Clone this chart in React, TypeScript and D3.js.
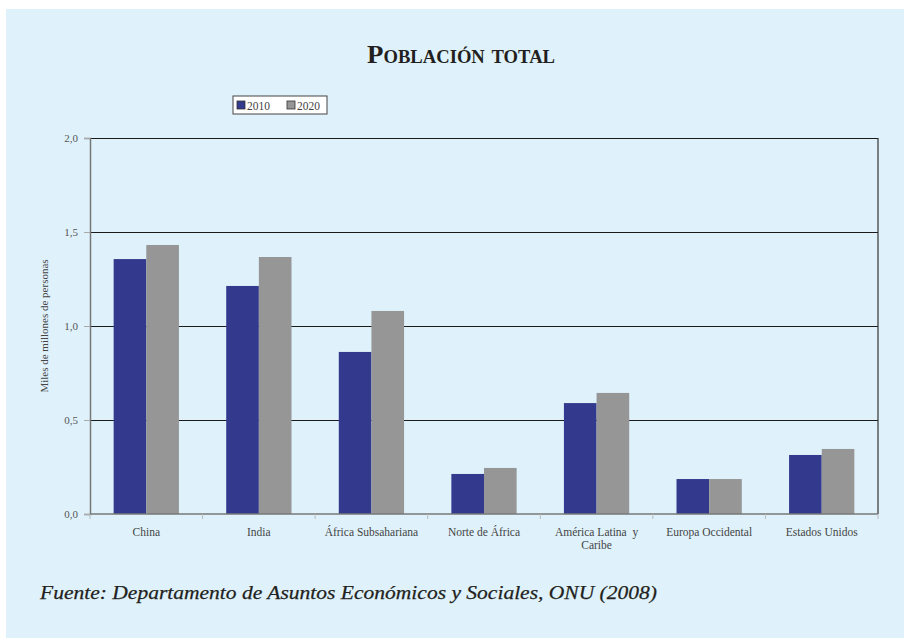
import React, { useRef, useEffect } from 'react';
import * as d3 from 'd3';

const categories = [
  'China',
  'India',
  'África Subsahariana',
  'Norte de África',
  'América Latina y Caribe',
  'Europa Occidental',
  'Estados Unidos',
];
const seriesNames = ['2010', '2020'];
const values2010 = [1.356, 1.213, 0.862, 0.213, 0.59, 0.186, 0.314];
const values2020 = [1.431, 1.367, 1.08, 0.245, 0.644, 0.186, 0.346];
const yTicks = [0, 0.5, 1.0, 1.5, 2.0];
const colors = ['#333a8e', '#969696'];

const W = 904;
const H = 638;

const App: React.FC = () => {
  const svgRef = useRef<SVGSVGElement>(null);

  useEffect(() => {
    if (!svgRef.current) return;
    const svg = d3.select(svgRef.current);
    svg.selectAll('*').remove();

    const serif = '"Liberation Serif", "DejaVu Serif", serif';

    // panel background
    svg.append('rect')
      .attr('x', 6).attr('y', 9)
      .attr('width', W - 6).attr('height', H - 9)
      .attr('fill', '#dff2fb');

    const margin = { top: 138, right: 26, bottom: 124, left: 90 };
    const innerWidth = W - margin.left - margin.right;
    const innerHeight = H - margin.top - margin.bottom;

    const g = svg.append('g')
      .attr('transform', `translate(${margin.left},${margin.top})`);

    const x0 = d3.scaleBand<string>()
      .domain(categories)
      .range([0, innerWidth])
      .paddingInner(0.42)
      .paddingOuter(0.21);
    const x1 = d3.scaleBand<string>()
      .domain(seriesNames)
      .range([0, x0.bandwidth()]);
    const y = d3.scaleLinear().domain([0, 2]).range([innerHeight, 0]);

    const step = x0.step();

    // gridlines
    g.append('g')
      .selectAll('line')
      .data(yTicks.filter(d => d > 0))
      .enter()
      .append('line')
      .attr('x1', 0).attr('x2', innerWidth)
      .attr('y1', d => Math.round(y(d)) + 0.5).attr('y2', d => Math.round(y(d)) + 0.5)
      .attr('stroke', '#1a1a1a')
      .attr('stroke-width', 1.2);

    // right border
    g.append('line')
      .attr('x1', innerWidth).attr('x2', innerWidth)
      .attr('y1', 0).attr('y2', innerHeight)
      .attr('stroke', '#333').attr('stroke-width', 1.2);

    // bars
    const data = categories.map((c, i) => ({ c, v: [values2010[i], values2020[i]] }));
    const groups = g.append('g').selectAll('g')
      .data(data)
      .enter()
      .append('g')
      .attr('transform', d => `translate(${x0(d.c)},0)`);
    groups.selectAll('rect')
      .data(d => d.v.map((v, k) => ({ k, v })))
      .enter()
      .append('rect')
      .attr('x', d => x1(seriesNames[d.k]) as number)
      .attr('width', x1.bandwidth())
      .attr('y', d => y(d.v))
      .attr('height', d => innerHeight - y(d.v))
      .attr('fill', d => colors[d.k]);

    // y axis
    const yAxis = d3.axisLeft(y)
      .tickValues(yTicks)
      .tickSize(6)
      .tickPadding(6)
      .tickFormat(d => d3.format('.1f')(Number(d)).replace('.', ','));
    const ya = g.append('g').call(yAxis);
    ya.select('.domain').attr('stroke', '#777').attr('stroke-width', 1.5);
    ya.selectAll('.tick line').attr('stroke', '#aaa');
    ya.selectAll('.tick text')
      .attr('font-family', serif)
      .attr('font-size', 11)
      .attr('fill', '#555');

    // x axis baseline
    g.append('line')
      .attr('x1', 0).attr('x2', innerWidth)
      .attr('y1', innerHeight).attr('y2', innerHeight)
      .attr('stroke', '#777').attr('stroke-width', 1.5);
    // x ticks at category boundaries
    g.append('g').selectAll('line')
      .data(d3.range(categories.length + 1))
      .enter()
      .append('line')
      .attr('x1', i => i * step).attr('x2', i => i * step)
      .attr('y1', innerHeight).attr('y2', innerHeight + 5)
      .attr('stroke', '#bbb');

    // x labels
    const labelLines: Record<string, string[]> = {
      'América Latina y Caribe': ['América Latina  y', 'Caribe'],
    };
    categories.forEach(c => {
      const lines = labelLines[c] || [c];
      const t = g.append('text')
        .attr('x', (x0(c) as number) + x0.bandwidth() / 2)
        .attr('y', innerHeight + 22)
        .attr('text-anchor', 'middle')
        .attr('font-family', serif)
        .attr('font-size', 11.5)
        .attr('fill', '#444')
        .attr('xml:space', 'preserve');
      lines.forEach((l, i) => {
        t.append('tspan')
          .attr('x', (x0(c) as number) + x0.bandwidth() / 2)
          .attr('dy', i === 0 ? 0 : 13)
          .text(l);
      });
    });

    // y axis title
    svg.append('text')
      .attr('transform', `translate(48, ${margin.top + innerHeight / 2}) rotate(-90)`)
      .attr('text-anchor', 'middle')
      .attr('font-family', serif)
      .attr('font-size', 11)
      .attr('fill', '#444')
      .text('Miles de millones de personas');

    // title
    svg.append('text')
      .attr('x', 461)
      .attr('y', 63)
      .attr('text-anchor', 'middle')
      .attr('font-family', serif)
      .attr('font-size', 26)
      .attr('font-weight', 'bold')
      .attr('font-variant', 'small-caps')
      .attr('fill', '#231f20')
      .attr('textLength', 188)
      .attr('lengthAdjust', 'spacingAndGlyphs')
      .text('Población total');

    // legend
    const lg = svg.append('g').attr('transform', 'translate(233,96)');
    lg.append('rect')
      .attr('width', 94).attr('height', 18)
      .attr('fill', '#fff')
      .attr('stroke', '#444').attr('stroke-width', 1);
    seriesNames.forEach((s, i) => {
      const gx = 4 + i * 50;
      lg.append('rect')
        .attr('x', gx).attr('y', 5)
        .attr('width', 8).attr('height', 8)
        .attr('fill', colors[i])
        .attr('stroke', '#333').attr('stroke-width', 0.8);
      lg.append('text')
        .attr('x', gx + 10).attr('y', 13.5)
        .attr('font-family', serif)
        .attr('font-size', 11.5)
        .attr('fill', '#444')
        .text(s);
    });

    // source
    svg.append('text')
      .attr('x', 40)
      .attr('y', 599)
      .attr('font-family', serif)
      .attr('font-style', 'italic')
      .attr('font-size', 19.5)
      .attr('fill', '#231f20')
      .attr('stroke', '#231f20')
      .attr('stroke-width', 0.25)
      .attr('textLength', 617)
      .attr('lengthAdjust', 'spacingAndGlyphs')
      .text('Fuente: Departamento de Asuntos Económicos y Sociales, ONU (2008)');
  }, []);

  return (
    <svg
      ref={svgRef}
      width={W}
      height={H}
      style={{ position: 'absolute', left: 0, top: 0, display: 'block', background: '#fff' }}
    />
  );
};

export default App;
